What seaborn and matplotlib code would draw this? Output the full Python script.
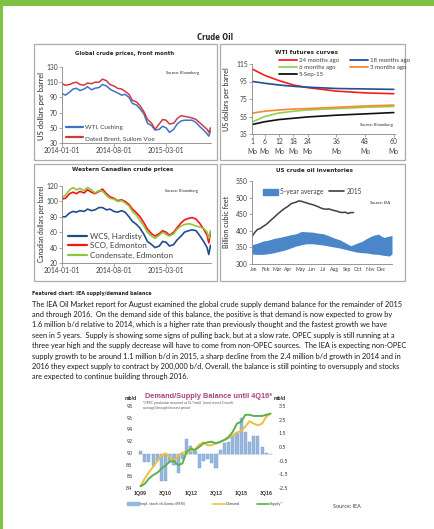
import matplotlib
matplotlib.use("Agg")
import matplotlib.pyplot as plt
from matplotlib import font_manager as fm
from matplotlib.patches import Rectangle, Patch
from matplotlib.lines import Line2D
import pandas as pd
import seaborn as sns

# ---------------- data ----------------
price_dates = [
    "2014-01-01", "2014-01-15", "2014-02-01", "2014-02-15", "2014-03-01", "2014-03-15",
    "2014-04-01", "2014-04-15", "2014-05-01", "2014-05-15", "2014-06-01", "2014-06-15",
    "2014-07-01", "2014-07-15", "2014-08-01", "2014-08-15", "2014-09-01", "2014-09-15",
    "2014-10-01", "2014-10-15", "2014-11-01", "2014-11-15", "2014-12-01", "2014-12-15",
    "2015-01-01", "2015-01-15", "2015-02-01", "2015-02-15", "2015-03-01", "2015-03-15",
    "2015-04-01", "2015-04-15", "2015-05-01", "2015-05-15", "2015-06-01", "2015-06-15",
    "2015-07-01", "2015-07-15", "2015-08-01", "2015-08-15", "2015-08-22", "2015-08-29",
]
wti = [95, 93, 97, 101, 102, 99, 101, 104, 100, 102, 103, 107, 105, 101, 98, 96, 93, 94,
       90, 82, 80, 75, 68, 56, 53, 47, 48, 52, 50, 44, 48, 55, 59, 60, 60, 60,
       57, 52, 47, 42, 39, 46]
brent = [108, 106, 107, 109, 110, 107, 106, 109, 108, 110, 110, 114, 112, 107, 105, 102, 101, 98,
         94, 86, 84, 79, 71, 61, 56, 48, 55, 61, 60, 55, 56, 62, 66, 65, 64, 63,
         61, 57, 52, 48, 44, 50]
wcs = [80, 80, 85, 87, 86, 88, 87, 90, 88, 89, 92, 92, 89, 90, 87, 86, 88, 86,
       80, 74, 70, 65, 57, 48, 44, 40, 42, 48, 47, 42, 44, 50, 55, 60, 62, 63,
       62, 56, 48, 40, 31, 43]
sco = [103, 104, 110, 112, 110, 113, 111, 115, 112, 110, 113, 116, 110, 106, 104, 101, 102, 100,
       96, 90, 85, 80, 72, 64, 58, 55, 58, 62, 60, 56, 60, 66, 72, 76, 78, 79,
       77, 72, 64, 56, 46, 60]
condensate = [105, 108, 115, 118, 115, 117, 114, 118, 115, 111, 114, 113, 108, 104, 103, 100, 101, 98,
              94, 87, 82, 75, 68, 60, 55, 52, 56, 60, 57, 55, 58, 64, 68, 70, 71, 70,
              68, 67, 65, 60, 52, 62]

futures_months = [1, 6, 12, 18, 24, 36, 48, 60]
fut_24m = [109, 102, 96, 91, 88, 84, 82, 81]
fut_18m = [95, 93, 91, 89.5, 88.5, 87, 86.5, 86]
fut_6m = [49, 55, 59, 61, 62.5, 64, 65.5, 66.5]
fut_3m = [59, 61, 62.5, 63.5, 64, 65.5, 67, 68]
fut_now = [46, 49, 51.5, 53, 54.5, 56.5, 58, 59.5]

band_weeks = [1, 3, 5, 7, 9, 11, 13, 15, 17, 19, 21, 23, 25, 27, 29, 31, 33, 35, 37, 39,
              41, 43, 45, 47, 49, 51, 52]
band_low = [330, 329, 329, 331, 334, 338, 342, 348, 354, 358, 361, 361, 359, 357, 354, 351,
            348, 344, 340, 336, 334, 333, 330, 329, 326, 324, 330]
band_high = [358, 363, 369, 372, 377, 380, 384, 388, 391, 398, 397, 396, 393, 391, 385, 378,
             373, 364, 355, 362, 368, 378, 386, 390, 380, 384, 386]
inv_weeks = list(range(1, 39))
inv_2015 = [383, 395, 404, 407, 413, 418, 425, 433, 440, 448, 455, 462, 468, 473, 480, 484,
            486, 490, 489, 486, 484, 481, 479, 476, 473, 469, 466, 465, 466, 463, 461, 459,
            456, 455, 456, 452, 455, 455]
month_labels = ["Jan", "Feb", "Mar", "Apr", "May", "Jun", "Jul", "Aug", "Sep", "Oct", "Nov", "Dec"]

quarters = [f"{q}Q{y:02d}" for y in range(9, 17) for q in range(1, 5)]
stock_change = [0.2, -0.6, -0.6, -0.9, -0.5, -2.0, -2.0, -0.6, -0.8, -1.4, -0.4, 1.1,
                0.6, 0.2, -1.0, -0.5, -0.4, -0.7, -1.0, 0.3, 0.8, 0.9, 1.3, 1.5,
                2.6, 1.6, 0.9, 1.3, 1.3, 0.5, 0.05, 0.0]
demand = [84.3, 85.6, 86.7, 87.6, 88.6, 89.6, 89.9, 89.3, 88.5, 89.6, 90.0, 90.2,
          90.3, 90.6, 91.4, 91.8, 91.3, 91.3, 91.7, 91.8, 92.2, 92.5, 93.0, 93.5,
          93.7, 94.5, 95.4, 95.0, 94.7, 95.0, 96.2, 96.7]
supply = [84.3, 84.7, 85.6, 86.2, 86.6, 87.3, 87.9, 88.5, 88.6, 87.9, 88.2, 90.2,
          90.7, 90.5, 91.0, 91.6, 91.8, 91.9, 91.6, 91.9, 92.2, 92.7, 93.6, 95.0,
          95.3, 96.5, 96.5, 96.3, 96.3, 96.3, 96.5, 96.7]

body_lines = [
    "The IEA Oil Market report for August examined the global crude supply demand balance for the remainder of 2015",
    "and through 2016.  On the demand side of this balance, the positive is that demand is now expected to grow by",
    "1.6 million b/d relative to 2014, which is a higher rate than previously thought and the fastest growth we have",
    "seen in 5 years.  Supply is showing some signs of pulling back, but at a slow rate. OPEC supply is still running at a",
    "three year high and the supply decrease will have to come from non-OPEC sources.  The IEA is expecting non-OPEC",
    "supply growth to be around 1.1 million b/d in 2015, a sharp decline from the 2.4 million b/d growth in 2014 and in",
    "2016 they expect supply to contract by 200,000 b/d. Overall, the balance is still pointing to oversupply and stocks",
    "are expected to continue building through 2016.",
]


# ---------------- fonts ----------------
def weight_of(f):
    return f.weight if isinstance(f.weight, int) else fm.weight_dict.get(f.weight, 400)


def pick_bold_font():
    """Prefer a condensed bold face (closest to Calibri Bold), else a plain bold one."""
    latin = ["DejaVu Sans", "Liberation Sans Narrow", "Noto Sans", "Noto Sans Condensed",
             "Open Sans", "Open Sans Condensed", "Roboto", "Roboto Condensed", "Liberation Sans"]
    bold = [f for f in fm.fontManager.ttflist if weight_of(f) >= 700 and f.name in latin]
    for name in latin:
        for f in bold:
            if f.name == name and "condensed" in str(f.stretch):
                return [name, "DejaVu Sans"], f.stretch
    for name in ["Liberation Sans Narrow", "Roboto", "Noto Sans", "Liberation Sans"]:
        if any(f.name == name for f in bold):
            return [name, "DejaVu Sans"], "normal"
    return ["DejaVu Sans"], "normal"


sns.set_style("ticks")
plt.rcParams["font.family"] = ["Lato", "DejaVu Sans"]
BOLD, STRETCH = pick_bold_font()
ARIAL = ["Liberation Sans", "DejaVu Sans"]
W, H = 435, 529
fig = plt.figure(figsize=(W / 100, H / 100), dpi=100)
AXC = "#868686"
TXT = "#262626"
to_fit = []   # (text, target width in px) resolved after a first draw


def px_axes(x0, y0, x1, y1):
    return fig.add_axes([x0 / W, 1 - y1 / H, (x1 - x0) / W, (y1 - y0) / H])


def ptext(x, y, s, fit=None, **kw):
    kw.setdefault("color", TXT)
    kw.setdefault("va", "center")
    t = fig.text(x / W, 1 - y / H, s, **kw)
    if fit:
        to_fit.append((t, fit))
    return t


def box(x0, y0, x1, y1):
    fig.patches.append(Rectangle((x0 / W, 1 - y1 / H), (x1 - x0) / W, (y1 - y0) / H,
                                 transform=fig.transFigure, fill=False, ec="#ABABAB", lw=0.9))


def style(ax, fs=4.9):
    sns.despine(ax=ax)
    for s in ("left", "bottom"):
        ax.spines[s].set_color(AXC)
        ax.spines[s].set_linewidth(0.6)
    ax.tick_params(labelsize=fs, length=2, width=0.5, color=AXC, pad=1, labelcolor="#404040")
    ax.set_xlabel("")
    ax.set_ylabel("")


def legend_at(handles, labels, x, y, **kw):
    opts = dict(loc="upper left", bbox_to_anchor=(x / W, 1 - y / H), bbox_transform=fig.transFigure,
                frameon=False, borderaxespad=0, borderpad=0, handletextpad=0.3)
    opts.update(kw)
    leg = fig.legend(handles, labels, **opts)
    for t in leg.get_texts():
        t.set_color("#404040")
    return leg


def bold_text(x, y, s, width, **kw):
    kw.setdefault("ha", "center")
    return ptext(x, y, s, fit=width, fontsize=5, fontweight="bold", family=BOLD,
                 fontstretch=STRETCH, **kw)


# page decoration
fig.patches.append(Rectangle((0, 0), 3.5 / W, 1, transform=fig.transFigure, color="#7DC242", lw=0))
fig.patches.append(Rectangle((0, 1 - 5.5 / H), 1, 5.5 / H, transform=fig.transFigure, color="#7DC242", lw=0))
bold_text(215, 37, "Crude Oil", 36)
for b in [(34, 44, 217, 160), (220, 44, 405, 160), (34, 164, 217, 281), (220, 164, 405, 281)]:
    box(*b)

dates = pd.to_datetime(price_dates)
date_ticks = pd.to_datetime(["2014-01-01", "2014-08-01", "2015-03-01"])

# ---------------- panel 1: global crude prices ----------------
ax1 = px_axes(62, 67, 211, 143)
df1 = pd.DataFrame({"date": list(dates) * 2, "price": wti + brent,
                    "series": ["WTI, Cushing"] * len(wti) + ["Dated Brent, Sullom Voe"] * len(brent)})
pal1 = {"WTI, Cushing": "#3F72C6", "Dated Brent, Sullom Voe": "#CF3B3D"}
sns.lineplot(data=df1, x="date", y="price", hue="series", palette=pal1, lw=1.1, ax=ax1, legend=False)
ax1.set_ylim(30, 130)
ax1.set_yticks(range(30, 131, 20))
ax1.set_xlim(dates[0], dates[-1] + pd.Timedelta(days=2))
ax1.set_xticks(date_ticks)
ax1.set_xticklabels([d.strftime("%Y-%m-%d") for d in date_ticks])
style(ax1)
bold_text(125, 53, "Global crude prices, front month", 98)
ptext(42, 106, "US dollars per barrel", fit=68, ha="center", rotation=90, fontsize=4.4)
ptext(183, 73, "Source: Bloomberg", ha="center", fontsize=2.9)
legend_at([Line2D([], [], color=c, lw=1.6) for c in pal1.values()], list(pal1.keys()),
          66, 125, fontsize=4.6, handlelength=2.6, labelspacing=0.75)

# ---------------- panel 2: WTI futures curves ----------------
ax2 = px_axes(252, 64, 395, 134)
fut_names = ["24 months ago", "6 months ago", "5-Sep-15", "18 months ago", "3 months ago"]
fut_vals = [fut_24m, fut_6m, fut_now, fut_18m, fut_3m]
pal2 = {"24 months ago": "#FF1A1A", "6 months ago": "#92D050", "5-Sep-15": "#111111",
        "18 months ago": "#1F4E9A", "3 months ago": "#F7882F"}
df2 = pd.DataFrame({"month": futures_months * len(fut_names),
                    "price": sum(fut_vals, []),
                    "series": sum([[n] * len(futures_months) for n in fut_names], [])})
sns.lineplot(data=df2, x="month", y="price", hue="series", palette=pal2, lw=1.2, ax=ax2, legend=False)
ax2.set_ylim(35, 115)
ax2.set_yticks(range(35, 116, 20))
ax2.set_xlim(0.7, 60.5)
ax2.set_xticks(futures_months)
ax2.set_xticklabels([f"{m}\nMo" for m in futures_months], linespacing=1.4)
style(ax2)
bold_text(307, 53, "WTI futures curves", 63)
ptext(227, 99, "US dollars per barrel", fit=64, ha="center", rotation=90, fontsize=4.4)
ptext(377, 125, "Source: Bloomberg", ha="center", fontsize=2.9)
legend_at([Line2D([], [], color=pal2[n], lw=1.3) for n in fut_names], fut_names,
          279, 57.5, fontsize=4.4, ncol=2, handlelength=3.0, labelspacing=0.3, columnspacing=1.7)

# ---------------- panel 3: Western Canadian crude prices ----------------
ax3 = px_axes(62, 186, 211, 263)
can_names = ["WCS, Hardisty", "SCO, Edmonton", "Condensate, Edmonton"]
pal3 = {"WCS, Hardisty": "#1F4E8C", "SCO, Edmonton": "#FF1010", "Condensate, Edmonton": "#8DC63F"}
df3 = pd.DataFrame({"date": list(dates) * 3, "price": wcs + sco + condensate,
                    "series": sum([[n] * len(dates) for n in can_names], [])})
sns.lineplot(data=df3, x="date", y="price", hue="series", palette=pal3, lw=1.2, ax=ax3, legend=False)
ax3.set_ylim(20, 120)
ax3.set_yticks(range(20, 121, 20))
ax3.set_xlim(dates[0], dates[-1] + pd.Timedelta(days=2))
ax3.set_xticks(date_ticks)
ax3.set_xticklabels([d.strftime("%Y-%m-%d") for d in date_ticks])
style(ax3)
bold_text(123, 170, "Western Canadian crude prices", 103)
ptext(42, 224, "Canadian dollars per barrel", fit=76, ha="center", rotation=90, fontsize=4.4)
ptext(182, 191, "Source: Bloomberg", ha="center", fontsize=2.9)
legend_at([Line2D([], [], color=pal3[n], lw=1.6) for n in can_names], can_names,
          68, 232.5, fontsize=5.8, handlelength=2.4, labelspacing=0.3)

# ---------------- panel 4: US crude inventories ----------------
ax4 = px_axes(252, 181, 392, 264)
ax4.fill_between(band_weeks, band_low, band_high, color="#4A86C8", lw=0)
sns.lineplot(x=inv_weeks, y=inv_2015, color="#404040", lw=1.1, ax=ax4)
ax4.set_ylim(300, 550)
ax4.set_yticks(range(300, 551, 50))
ax4.set_xlim(1, 52)
ax4.set_xticks([1.6 + 4.23 * i for i in range(12)])
ax4.set_xticklabels(month_labels)
style(ax4, fs=3.7)
ax4.tick_params(axis="x", length=0, pad=2)
ax4.tick_params(axis="y", labelsize=4.9)
bold_text(315, 170, "US crude oil inventories", 77)
ptext(227, 222, "Billion cubic feet", fit=52, ha="center", rotation=90, fontsize=4.4)
ptext(380, 203, "Source: EIA", ha="center", fontsize=2.9)
legend_at([Patch(color="#4A86C8"), Line2D([], [], color="#404040", lw=1.2)],
          ["5-year average", "2015"], 263, 188, fontsize=4.8, ncol=2, handlelength=2.3,
          handleheight=1.0, columnspacing=0.8)

# ---------------- featured text ----------------
bold_text(32, 293, "Featured chart: IEA supply/demand balance", 120, ha="left")
body = [ptext(32, 304 + 10.4 * i, s, fontsize=5.0, color="#1A1A1A") for i, s in enumerate(body_lines)]

# ---------------- IEA demand/supply balance ----------------
ax5 = px_axes(138, 406, 273, 488)
sns.barplot(x=list(range(len(quarters))), y=stock_change, native_scale=True, color="#8FB6E4",
            width=0.75, edgecolor="#6F9ED8", linewidth=0.3, ax=ax5)
ax5.set_ylim(-2.5, 3.5)
ax5.set_yticks([-2.5, -1.5, -0.5, 0.5, 1.5, 2.5, 3.5])
ax5.set_yticklabels(["-2.5", "-1.5", "-0.5", "0.5", "1.5", "2.5", "3.5"])
ax6 = ax5.twinx()
sns.lineplot(x=list(range(len(quarters))), y=demand, color="#EEC03A", lw=1.4, ax=ax6)
sns.lineplot(x=list(range(len(quarters))), y=supply, color="#5BB14E", lw=1.4, ax=ax6)
ax6.set_ylim(84, 98)
ax6.set_yticks(range(84, 99, 2))
ax5.set_xlim(-0.6, len(quarters) - 0.4)
ax5.set_xticks(range(0, len(quarters), 6))
ax5.set_xticklabels(quarters[::6])
for a in (ax5, ax6):
    sns.despine(ax=a, left=True, right=True, bottom=True)
    a.tick_params(length=0, pad=4, labelsize=3.8, labelcolor="#333333")
    a.set_xlabel("")
    a.set_ylabel("")
    for lab in a.get_xticklabels() + a.get_yticklabels():
        lab.set_fontweight("bold")
        lab.set_family(ARIAL)
ax5.yaxis.tick_right()
ax6.yaxis.tick_left()
ax5.axhline(0, color="#D9D9D9", lw=0.4, zorder=0)
ax5.tick_params(axis="x", pad=2)
ptext(209, 396.5, "Demand/Supply Balance until 4Q16*", fit=125, ha="center", fontsize=4.6,
      fontweight="bold", color="#A8457A", family=ARIAL)
ptext(131, 398, "mb/d", ha="center", fontsize=3.6, fontweight="bold", family=ARIAL)
ptext(280, 398, "mb/d", ha="center", fontsize=3.6, fontweight="bold", family=ARIAL)
ptext(143, 405.5, "*OPEC production assumed at 31.7mb/d  (most recent 3 month\naverage) through forecast period",
      fontsize=2.3, color="#555555", linespacing=1.3, family=ARIAL)
iea_handles = [Patch(color="#8FB6E4"), Line2D([], [], color="#EEC03A", lw=1.2),
               Line2D([], [], color="#5BB14E", lw=1.2)]
iea_labels = ["Impl. stock ch.&misc (RHS)", "Demand", "Supply*"]
for h, lab, x0 in zip(iea_handles, iea_labels, [127, 213, 257]):
    legend_at([h], [lab], x0, 502, fontsize=2.8, handlelength=3.0, handleheight=0.6)
ptext(333, 506, "Source: IEA", fontsize=4.0, color="#404040")

# size the fitted texts to their target widths, measured on a real draw
fig.canvas.draw()
for t, target in to_fit:
    ext = t.get_window_extent()
    t.set_fontsize(t.get_fontsize() * target / max(ext.width, ext.height))
w0 = body[0].get_window_extent().width
for t in body:
    t.set_fontsize(t.get_fontsize() * 375 / w0)

fig.savefig("out.png", dpi=100)
